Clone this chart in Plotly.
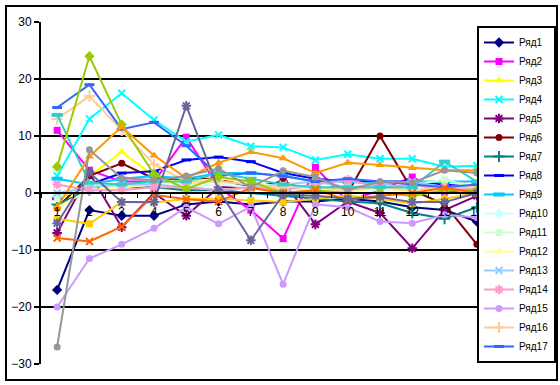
import plotly.graph_objects as go

categories = [str(i) for i in range(1, 15)]

s1 = [-17, -3, -4, -4, -2, -1.5, -2, -1.5, -1.5, -1, -1.5, -2.5, -3, -5]
s2 = [11, 4, 2, 2, 9.8, 1, -3, -8, 4.5, -1.5, 0.5, 2.8, 0, 1]
s3 = [-3, 3, 7.2, 3, 2, 2, 1.5, 1, 1, 0.5, 2, -0.5, 0.5, 1]
s4 = [3, 13, 17.5, 12.8, 9, 10.2, 8.2, 8, 5.8, 6.8, 6, 6, 4.6, 4.8]
s5 = [-7, 3.5, -6, 0, -4, 1, 1, 2, -5.5, -1.5, -3.5, -9.7, -3, -0.5]
s6 = [-2.6, 3, 5.2, 2.5, 2.5, 2.5, 1, 2, 0, 0, 10, 0.5, -2, -9]
s7 = [-2, 0.5, 1, 1, 0.5, 0.5, 0, -0.5, -1, -1.5, -1.8, -3.5, -4.5, -2.5]
s8 = [-1, 1.5, 3.5, 3.8, 5.8, 6.3, 5.5, 3.5, 2.5, 2, 2, 2, 1.5, 1]
s9 = [2.5, 1.5, 2.5, 3, 2.5, 3.5, 3.5, 3, 2, 2, 1.5, 2, 2, 2]
s10 = [-0.5, 0.5, 1, 1.5, 1, 1.5, 1, 0.5, 1, 0.5, 0.5, 1, 1, 1.5]
s11 = [-1, 1.5, 1, 2, 1.5, 2, 1.5, 1, 0.5, 1, 1, 1.5, 2.3, 1]
s12 = [-2.5, 0.5, 1, 1.5, 2, 2.5, 2, 1, 1, 0, 1, 0, 1, 1]
s13 = [0, 1, 1.5, 1.5, 1, 0.5, 1, 1.5, 2, 1, 1.5, 2, 1, 0.5]
s14 = [1.5, 0.5, 0.5, 1, 1, 0.5, 1, 0.5, 1.5, 2.3, 1, 1.5, 0.5, 1]
s15 = [-20, -11.5, -9, -6.2, -2.5, -5.4, -2.4, -16, -2, -2.5, -5, -5.3, -3.8, -4.3]
s16 = [13, 17, 11, 5, 2, 2, 1.5, 1, 1, 0.5, 1, 0.5, 1, 1]
s17 = [15, 19, 11.2, 12.4, 8.3, 3, 3.5, 3, 2, 2.5, 2, 1.5, 1, 1.5]
s18 = [13.7, 1.8, 1.5, 2, 2, 3.5, 2.5, 1.5, 1, 1, 1, 1, 5.5, 2]
s19 = [4.6, 24, 12, 3.3, 0.7, 2.8, 2, 0, 0.5, 0, 0, -0.5, 0.5, 0.5]
s20 = [-4.5, -5.4, -1.6, -1.7, -1, -1, -1.3, -1.6, -1, -0.5, -1, -1.9, -1, 0]
s21 = [-2.5, 6.4, 11.6, 6.6, 2.6, 5.3, 7.2, 6.1, 3.5, 5.3, 4.9, 4.4, 4, 4]
s22 = [-7.9, -8.5, -5.9, -0.3, -1.1, -1.5, 0.9, 0, 0.5, -1.2, -0.5, 0, 0.9, 0]
s23 = [-5.3, 3.6, -1.6, -1.6, 15.3, 0.5, -8.3, -0.3, -0.5, -1, -0.7, -1.6, -1.6, 0]
s24 = [-27, 7.6, 2.6, 2.3, 3, 4.3, 1, 3.9, 2.8, 0.5, 2, 1.8, 4, 3.5]

series = [s1, s2, s3, s4, s5, s6, s7, s8, s9, s10, s11, s12,
          s13, s14, s15, s16, s17, s18, s19, s20, s21, s22, s23, s24]
names = ["Ряд" + str(i) for i in range(1, 25)]
legend_count = 17

colors = ["#000080", "#FF00FF", "#FFFF00", "#00FFFF", "#800080", "#800000",
          "#008080", "#0000FF", "#00CCFF", "#CCFFFF", "#CCFFCC", "#FFFF99",
          "#99CCFF", "#FF99CC", "#CC99FF", "#FFCC99", "#3366FF", "#33CCCC",
          "#99CC00", "#FFCC00", "#FF9900", "#FF6600", "#666699", "#969696"]

marker_cycle = [
    dict(symbol="diamond", size=8),
    dict(symbol="square", size=7),
    dict(symbol="triangle-up", size=8),
    dict(symbol="x-thin-open", size=7, lw=2),
    dict(symbol="asterisk-open", size=8, lw=2),
    dict(symbol="circle", size=7),
    dict(symbol="cross-thin-open", size=8, lw=2),
    dict(symbol="line-ew-open", size=7, lw=3),
    dict(symbol="line-ew-open", size=8, lw=4),
]

fig = go.Figure()
for i, (vals, nm, col) in enumerate(zip(series, names, colors)):
    m = marker_cycle[i % 9]
    mk = dict(symbol=m["symbol"], size=m["size"], color=col)
    if "lw" in m:
        mk["line"] = dict(color=col, width=m["lw"])
    else:
        mk["line"] = dict(width=0)
    fig.add_trace(go.Scatter(
        x=categories, y=vals, name=nm, mode="lines+markers",
        line=dict(color=col, width=2), marker=mk,
        showlegend=i < legend_count,
    ))

shapes = []
for gy in [-20, -10, 10, 20]:
    shapes.append(dict(type="line", xref="paper", yref="y", x0=0, x1=1,
                       y0=gy, y1=gy, line=dict(color="black", width=2),
                       layer="below"))
# outer chart border
shapes.append(dict(type="rect", xref="paper", yref="paper",
                   x0=(6 - 41) / 452, x1=(557 - 41) / 452,
                   y0=(364 - 380) / 342, y1=(364 - 6) / 342,
                   line=dict(color="black", width=2), layer="below"))

fig.update_layout(
    width=560, height=385,
    margin=dict(l=41, r=67, t=22, b=21, autoexpand=False),
    paper_bgcolor="white", plot_bgcolor="white",
    font=dict(family="Liberation Sans, Arial, sans-serif", size=12, color="black"),
    shapes=shapes,
    showlegend=True,
    legend=dict(x=(477 - 41) / 452, y=(364 - 26) / 342, xanchor="left", yanchor="top",
                bgcolor="white", bordercolor="black", borderwidth=2,
                font=dict(size=10, family="Liberation Sans, Arial, sans-serif"),
                itemwidth=30, tracegroupgap=0),
    xaxis=dict(type="category", range=[-0.5, 13.5], anchor="free", position=0.5,
               showline=True, linecolor="black", linewidth=2,
               ticks="outside", tickson="boundaries", ticklen=4, tickwidth=1,
               tickcolor="black", showgrid=False, zeroline=False,
               ticklabelstandoff=8, tickfont=dict(size=12)),
    yaxis=dict(range=[-30, 30], tickvals=[-30, -20, -10, 0, 10, 20, 30],
               showline=True, linecolor="black", linewidth=2,
               ticks="outside", ticklen=5, tickwidth=2, tickcolor="black",
               showgrid=False, zeroline=False, tickfont=dict(size=12)),
)

fig.write_html("out.html", config={"displayModeBar": False},
               post_script="document.body.style.margin='0';document.body.style.overflow='hidden';")
